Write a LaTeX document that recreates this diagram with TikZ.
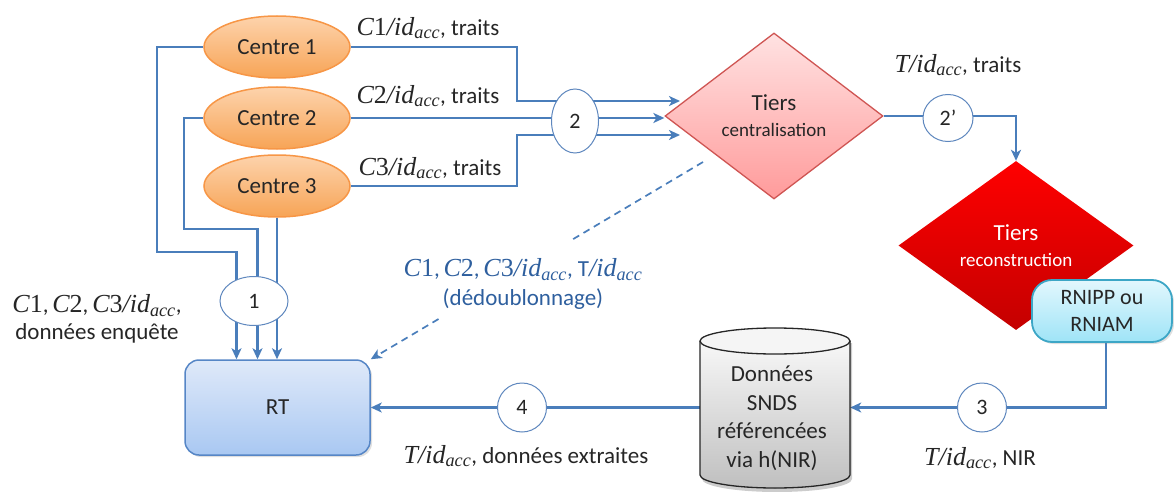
\documentclass[tikz,border=0pt]{standalone}
\usepackage{fontspec}
\setmainfont{Carlito}
\newfontfamily\mf{Liberation Serif}[Scale=1.13]
\usetikzlibrary{shapes.geometric,arrows.meta,shadows,calc}
\pgfdeclarelayer{bg}
\pgfsetlayers{bg,main}
\definecolor{lineblue}{HTML}{4A7EBB}
\definecolor{numblue}{HTML}{5E87BE}
\definecolor{orB}{HTML}{F79646}
\definecolor{orT}{HTML}{FDD3AC}
\definecolor{orBt}{HTML}{F7A456}
\definecolor{pkB}{HTML}{CF5553}
\definecolor{pkT}{HTML}{FFE2E2}
\definecolor{pkBt}{HTML}{FF9B9B}
\definecolor{rdT}{HTML}{FF0000}
\definecolor{rdBt}{HTML}{C40000}
\definecolor{rnB}{HTML}{3CA6C6}
\definecolor{rnT}{HTML}{E2F7FD}
\definecolor{rnBt}{HTML}{9FE4F7}
\definecolor{rtB}{HTML}{5686C6}
\definecolor{rtT}{HTML}{DFE9F9}
\definecolor{rtBt}{HTML}{A9C8F2}
\definecolor{dashtext}{HTML}{2E5F9E}
\definecolor{txt}{HTML}{262626}
\newcommand{\fsz}[2]{\fontsize{#1}{#2}\selectfont}
\newcommand{\mi}[1]{{\mf\itshape #1}}
\newcommand{\mup}[1]{{\mf #1}}
\newcommand{\idacc}{\mi{id}\textsubscript{\mi{acc}}}
\begin{document}
\begin{tikzpicture}[x=1pt,y=-1pt,
  conn/.style={draw=lineblue, line width=2.1pt},
  arr/.style={conn, -{Stealth[length=11pt,width=10pt,inset=3pt]}},
  centre/.style={ellipse, draw=orB, line width=1.5pt, top color=orT, bottom color=orBt,
    minimum width=146pt, minimum height=62pt, inner sep=0pt, font=\fsz{23}{27}, text=txt},
  num/.style={ellipse, draw=numblue, line width=1pt, fill=white, inner sep=0pt,
    font=\fsz{22}{26}, text=txt},
  lbl/.style={inner sep=0pt, font=\fsz{23}{27}, align=center, text=txt},
  shd/.style={drop shadow={shadow xshift=2pt, shadow yshift=-2pt, opacity=0.25}}
]
\useasboundingbox (0,0) rectangle (1174,492);

% main nodes
\node[centre] (c1) at (277,47) {Centre 1};
\node[centre] (c2) at (277,118) {Centre 2};
\node[centre] (c3) at (277,186) {Centre 3};

\node[diamond, aspect=1.31, minimum width=218pt, minimum height=166pt, inner sep=0pt,
  draw=pkB, line width=1.3pt, top color=pkT, bottom color=pkBt, align=center, text=txt,
  font=\fsz{23}{26}]
  (tc) at (774,116) {Tiers\\{\fsz{19}{22}centralisation}};

\node[diamond, aspect=1.39, minimum width=235pt, minimum height=169pt, inner sep=0pt,
  top color=rdT, bottom color=rdBt, align=center, text=white, font=\fsz{23}{26}]
  (tr) at (1016,245.5) {Tiers\\{\fsz{19}{22}reconstruction}};

\node[rectangle, rounded corners=20pt, draw=rnB, line width=1.8pt, top color=rnT, bottom color=rnBt,
  minimum width=140pt, minimum height=62pt, inner sep=0pt, align=center, font=\fsz{22}{27}, text=txt, shd]
  (rn) at (1102,311) {RNIPP ou\\RNIAM};

\node[rectangle, rounded corners=14pt, draw=rtB, line width=1.5pt, top color=rtT, bottom color=rtBt,
  minimum width=185pt, minimum height=95pt, inner sep=0pt, font=\fsz{23}{27}, text=txt, shd]
  (rt) at (277.5,407.5) {RT};

% cylinder
\node[minimum width=150pt, minimum height=160pt, inner sep=0pt] (cyl) at (775,407.5) {};
\fill[black, opacity=0.2] (702,343) -- (702,479) arc[start angle=180, end angle=0, x radius=75, y radius=13] -- (852,343) -- cycle;
\fill[top color=gray!6, bottom color=gray!50] (700,341) -- (700,475) arc[start angle=180, end angle=0, x radius=75, y radius=13]
  -- (850,341) arc[start angle=0, end angle=180, x radius=75, y radius=13] -- cycle;
\filldraw[fill=gray!8, draw=black!85, line width=1.3pt] (775,341) ellipse[x radius=75, y radius=13];
\draw[black!85, line width=1.3pt] (700,341) -- (700,475) arc[start angle=180, end angle=0, x radius=75, y radius=13] -- (850,341);
\node[lbl, font=\fsz{23}{28.5}] (cyltxt) at (772,418) {Données\\SNDS\\référencées\\via h(NIR)};

% numbered ellipses
\node[num, minimum width=68pt, minimum height=49pt] (n1) at (254,301) {1};
\node[num, minimum width=47pt, minimum height=64pt] (n2) at (575,121) {2};
\node[num, minimum width=50pt, minimum height=47pt] (n2p) at (948,118) {2’};
\node[num, minimum size=49pt] (n3) at (982,407.5) {3};
\node[num, minimum size=49pt] (n4) at (522,407.5) {4};

% labels
\node[lbl] (l1) at (428,28) {\mi{C}\mup{1}\mi{/}\idacc, traits};
\node[lbl] (l2) at (428,96) {\mi{C}\mup{2}\mi{/}\idacc, traits};
\node[lbl] (l3) at (430,168) {\mi{C}\mup{3}\mi{/}\idacc, traits};
\node[lbl] (lt) at (958,65) {\mi{T}\mi{/}\idacc, traits};
\node[lbl] (ll) at (97,319) {\mi{C}\mup{1},\,\mi{C}\mup{2},\,\mi{C}\mup{3}\mi{/}\idacc,\\données enquête};
\node[lbl] (lb) at (526,456) {\mi{T}\mi{/}\idacc, données extraites};
\node[lbl] (ln) at (980,458) {\mi{T}\mi{/}\idacc, NIR};
\node[lbl, text=dashtext, font=\fsz{23}{29}] (ld) at (523,284) {\mi{C}\mup{1},\,\mi{C}\mup{2},\,\mi{C}\mup{3}\mi{/}\idacc, T\mi{/}\idacc\\(dédoublonnage)};

\coordinate (dstart) at (703,162);

% connectors
\begin{pgfonlayer}{bg}
\draw[arr] (c1.west) -| (157,252) -| ([xshift=-41pt]rt.north);
\draw[arr] (c2.west) -| (184,229) -| ([xshift=-20pt]rt.north);
\draw[arr] (c3.south) -- (c3.south |- rt.north);
\draw[arr] (c1.east) -| (517,101) -- (680,101);
\draw[arr] (c2.east) -- (c2.east -| tc.west);
\draw[arr] (c3.east) -| (517,135) -- (680,135);
\draw[arr] (tc.east) -| (tr.north);
\draw[arr] ([xshift=4pt]rn.south) |- (cyl.east);
\draw[arr] (cyl.west) -- (rt.east);
\draw[conn, line width=1.7pt, dash pattern=on 7pt off 5pt] (dstart) -- ($(dstart)!0.4!(rt.north east)$);
\draw[arr, line width=1.7pt, dash pattern=on 7pt off 5pt] ($(dstart)!0.796!(rt.north east)$) -- (rt.north east);
\end{pgfonlayer}
\end{tikzpicture}
\end{document}
